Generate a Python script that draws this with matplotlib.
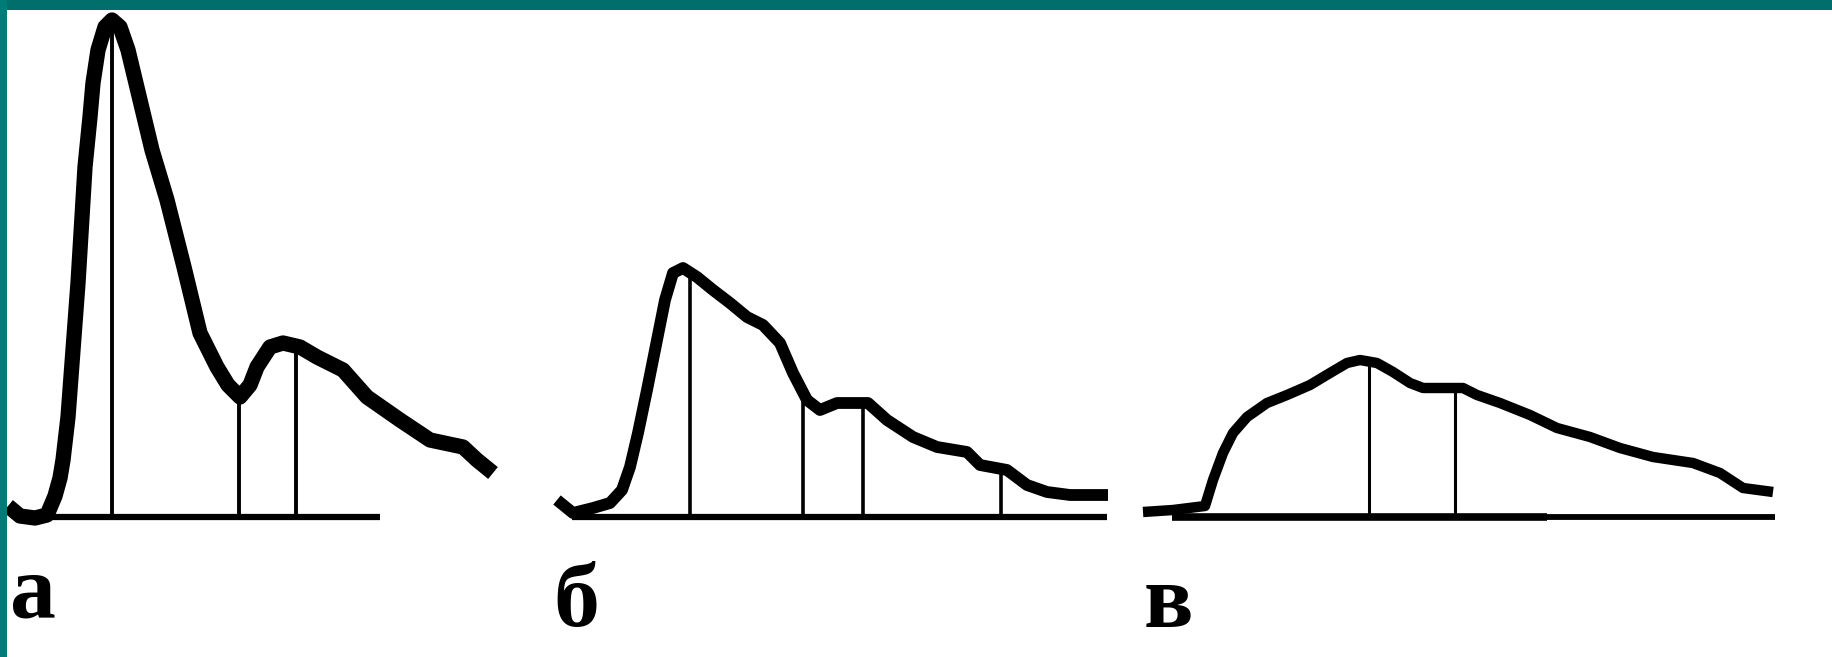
import numpy as np
import matplotlib
matplotlib.use('Agg')
import matplotlib.pyplot as plt
from matplotlib.patches import Rectangle

# --- данные (t - время от начала кривой, amp - высота над изолинией) ---

# кривая а
t_a = [0, 12, 27, 39, 47, 52, 55, 60, 65, 70, 74, 77, 82, 85, 90, 97, 104, 112, 120,
       132, 144, 159, 176, 192, 209, 220, 232, 242, 249, 262, 275, 292, 309, 335, 359,
       392, 422, 455, 469, 485]
amp_a = [11, 1, -1, 2, 21, 39, 57, 100, 167, 234, 300, 350, 400, 434, 467, 490, 497, 490, 467,
         417, 367, 317, 250, 184, 150, 132, 120, 132, 150, 170, 174, 170, 160, 147, 120,
         97, 77, 70, 57, 44]
marks_a = [104, 231, 288]
base_a = [42, 372]

# кривая б
t_b = [0, 16, 36, 53, 65, 73, 81, 90, 100, 108, 116, 126, 140, 156, 173, 190, 206, 223,
       236, 250, 263, 280, 295, 311, 330, 356, 380, 410, 423, 450, 470, 490, 513, 551]
amp_b = [17, 4, 9, 14, 27, 50, 84, 127, 177, 217, 244, 249, 240, 227, 214, 200, 192, 174,
         144, 117, 107, 114, 114, 114, 97, 80, 70, 65, 52, 47, 32, 25, 22, 22]
marks_b = [133, 246, 306, 444]
base_b = [15, 550]

# кривая в
t_c = [0, 30, 62, 70, 80, 90, 104, 124, 144, 167, 187, 204, 217, 234, 250, 267, 280, 320,
       334, 357, 387, 414, 447, 477, 510, 550, 577, 600, 630]
amp_c = [5, 7, 11, 37, 64, 84, 100, 114, 122, 132, 144, 154, 157, 154, 145, 134, 129, 129,
         122, 114, 102, 89, 80, 69, 60, 54, 44, 29, 25]
marks_c = [226, 312]
base_c_thick = [29, 404]
base_c_thin = [400, 632]

labels = ['а', 'б', 'в']

FIG_W, FIG_H = 1832, 657
BASE_Y = 517  # изолиния, px от верха


def add_panel(fig, left, right, x0, t, amp, marks, lw, mark_lw, mark_ls='-'):
    """Одна панель: ось в пикселях 1:1, без рамки"""
    ax = fig.add_axes([left / FIG_W, 0, (right - left) / FIG_W, 1])
    ax.set_xlim(left - x0, right - x0)
    ax.set_ylim(BASE_Y - FIG_H, BASE_Y)
    ax.axis('off')
    # вертикальные отметки до кривой
    tops = np.interp(marks, t, amp)
    ax.vlines(marks, 0, tops, colors='black', linewidth=mark_lw,
              linestyles=mark_ls, zorder=2, clip_on=False)
    ax.plot(t, amp, color='black', linewidth=lw, solid_joinstyle='round',
            solid_capstyle='butt', zorder=3, clip_on=False)
    return ax


fig = plt.figure(figsize=(FIG_W / 100, FIG_H / 100), dpi=100)
fig.patch.set_facecolor('white')

ax_a = add_panel(fig, 0, 540, 8, t_a, amp_a, marks_a, lw=11, mark_lw=2.8)
ax_a.hlines(0, base_a[0], base_a[1], colors='black', linewidth=4.5, zorder=2)

ax_b = add_panel(fig, 540, 1130, 557, t_b, amp_b, marks_b, lw=8.5, mark_lw=2.6)
ax_b.hlines(0, base_b[0], base_b[1], colors='black', linewidth=4.5, zorder=2)

ax_c = add_panel(fig, 1130, 1832, 1143, t_c, amp_c, marks_c, lw=7.5, mark_lw=2.2)
ax_c.hlines(0, base_c_thick[0], base_c_thick[1], colors='black', linewidth=5.5, zorder=2)
ax_c.hlines(0, base_c_thin[0], base_c_thin[1], colors='black', linewidth=4.2, zorder=2)

# подписи панелей
label_pos = [(10, 617), (553, 626), (1144, 627)]
for lab, (px, py) in zip(labels, label_pos):
    fig.text(px / FIG_W, 1 - py / FIG_H, lab, fontfamily='Liberation Serif',
             fontweight='bold', fontsize=66, va='baseline', ha='left')

# бирюзовая рамка сверху и слева
fig.patches.append(Rectangle((0, 1 - 10 / FIG_H), 1, 10 / FIG_H, transform=fig.transFigure,
                             facecolor='#006e6a', edgecolor='none', zorder=10))
fig.patches.append(Rectangle((0, 0), 7 / FIG_W, 1, transform=fig.transFigure,
                             facecolor='#007c78', edgecolor='none', zorder=10))

fig.savefig('out.png', dpi=100)
